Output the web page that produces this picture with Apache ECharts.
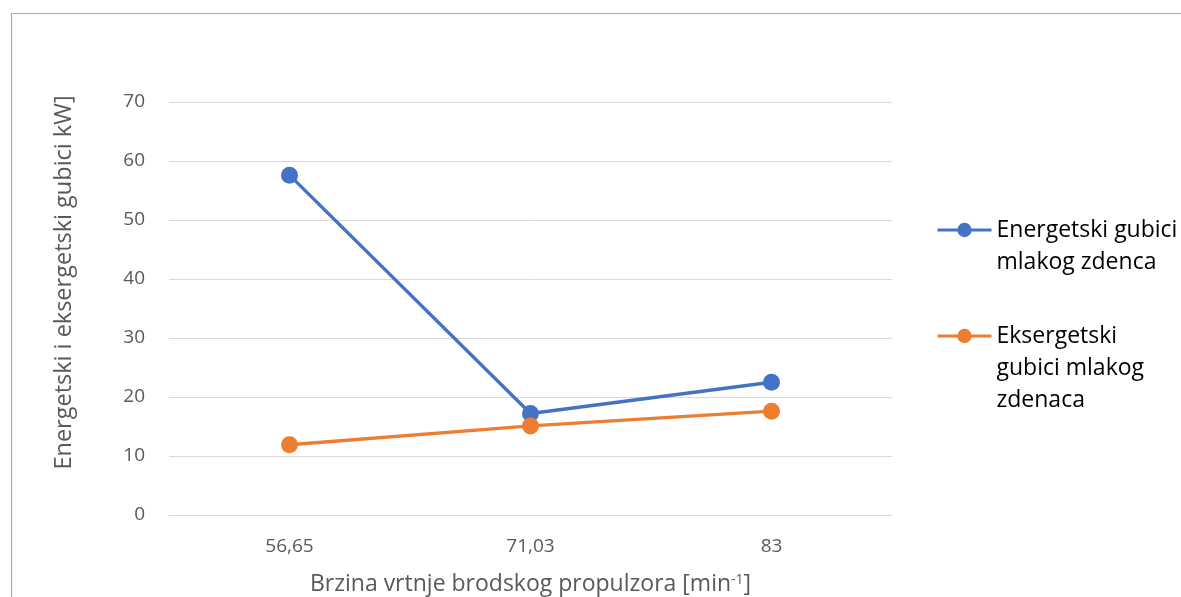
<!DOCTYPE html>
<html>
<head>
<meta charset="utf-8">
<script src="https://cdn.jsdelivr.net/npm/echarts@6/dist/echarts.min.js"></script>
<style>
html,body{margin:0;padding:0;background:#fff;}
#chart{width:1181px;height:597px;}
</style>
</head>
<body>
<div id="chart"></div>
<script>
const categories = ['56,65', '71,03', '83'];
const energetski = [57.6, 17.2, 22.5];
const eksergetski = [11.9, 15.1, 17.6];
const seriesNames = ['Energetski gubici mlakog zdenca', 'Eksergetski gubici mlakog zdenaca'];
const legendLines = [['Energetski gubici', 'mlakog zdenca'], ['Eksergetski', 'gubici mlakog', 'zdenaca']];
const yTicks = [0, 10, 20, 30, 40, 50, 60, 70];

const FONT = 'Open Sans';
const LH = 32;
const chart = echarts.init(document.getElementById('chart'));
function legendFor(i, iconY) {
  const lines = legendLines[i];
  const n = lines.length;
  const total = 2 * n - 1;
  const text = new Array(n - 1).fill('').concat(lines).join('\n');
  return {
    orient: 'vertical', left: 936, top: iconY - total * LH / 2, padding: 0,
    itemWidth: 54, itemHeight: 18, itemGap: 0,
    data: [seriesNames[i]],
    formatter: () => text,
    lineStyle: {width: 3},
    textStyle: {fontFamily: FONT, fontSize: 23, color: '#000', lineHeight: LH}
  };
}
chart.setOption({
  animation: false,
  backgroundColor: '#fff',
  graphic: [{
    type: 'rect', left: 9, top: 11, z: -1,
    shape: {width: 1300, height: 700},
    style: {fill: 'none', stroke: '#ababab', lineWidth: 1.2}
  }],
  grid: {left: 169, right: 289, top: 102, bottom: 82, outerBoundsMode: 'none'},
  legend: [legendFor(0, 230), legendFor(1, 336)],
  xAxis: {
    type: 'category', data: categories, boundaryGap: true,
    axisLine: {show: true, lineStyle: {color: '#d9d9d9', width: 1}},
    axisTick: {show: false},
    axisLabel: {fontFamily: FONT, fontSize: 19, color: '#595959', margin: 22},
    name: 'Brzina vrtnje brodskog propulzora [min{sup|-1}]',
    nameLocation: 'middle', nameGap: 58,
    nameTextStyle: {
      fontFamily: FONT, fontSize: 23, color: '#595959',
      rich: {sup: {fontFamily: FONT, fontSize: 14, color: '#595959', verticalAlign: 'top', padding: [0, 0, 9, 0]}}
    }
  },
  yAxis: {
    type: 'value', min: 0, max: 70, interval: 10,
    axisLine: {show: false}, axisTick: {show: false},
    splitLine: {lineStyle: {color: '#d9d9d9', width: 1}},
    axisLabel: {fontFamily: FONT, fontSize: 19, color: '#595959', margin: 24,
      formatter: v => yTicks.includes(v) ? String(v) : ''},
    name: 'Energetski i eksergetski gubici kW]',
    nameLocation: 'middle', nameGap: 93,
    nameTextStyle: {fontFamily: FONT, fontSize: 23.5, color: '#595959', padding: [0, 0, 0, 52]}
  },
  series: [
    {name: seriesNames[0], type: 'line', data: energetski, symbol: 'circle', symbolSize: 17,
      itemStyle: {color: '#4472C4'}, lineStyle: {color: '#4472C4', width: 3.4}},
    {name: seriesNames[1], type: 'line', data: eksergetski, symbol: 'circle', symbolSize: 17,
      itemStyle: {color: '#ED7D31'}, lineStyle: {color: '#ED7D31', width: 3.4}}
  ]
});
</script>
</body>
</html>
